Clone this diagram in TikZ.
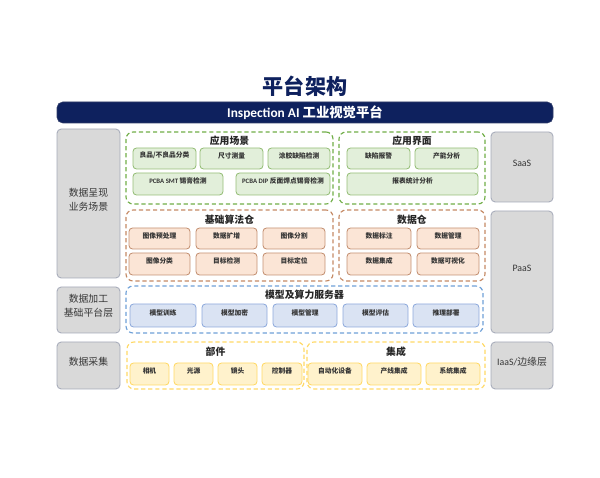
\documentclass[tikz,border=0pt]{standalone}
\usepackage{fontspec}
\setmainfont{Noto Sans CJK SC}
\newfontfamily\lat{Carlito}
\usepackage{tikz}
\usetikzlibrary{%
	fit,%
	calc
}
\definecolor{navy}{RGB}{14,33,94}
\definecolor{grayfill}{RGB}{217,217,217}
\definecolor{grayline}{RGB}{165,170,185}
\definecolor{greenline}{RGB}{112,173,71}
\definecolor{greenfill}{RGB}{226,239,218}
\definecolor{greenbox}{RGB}{150,190,120}
\definecolor{orangeline}{RGB}{196,137,100}
\definecolor{orangefill}{RGB}{251,229,214}
\definecolor{orangebox}{RGB}{196,145,115}
\definecolor{blueline}{RGB}{110,160,215}
\definecolor{bluefill}{RGB}{218,227,243}
\definecolor{bluebox}{RGB}{143,170,220}
\definecolor{yellowline}{RGB}{255,217,102}
\definecolor{yellowfill}{RGB}{255,242,204}
\definecolor{textgray}{RGB}{55,55,55}
\tikzset{
	base/.style={inner sep=0pt, rounded corners=3pt},
	side/.style={base, draw=grayline, fill=grayfill, line width=0.6pt, text=textgray, align=center, font=\fontsize{7}{10}\selectfont},
	grp/.style={base, dashed, dash pattern=on 3pt off 2pt, line width=0.8pt, rounded corners=5pt},
	grptitle/.style={font=\bfseries\fontsize{7}{8}\selectfont, text=black!85},
	item/.style={base, line width=0.6pt, rounded corners=2.5pt, font=\bfseries\fontsize{4.8}{5}\selectfont, text=black!80},
	gitem/.style={item, draw=greenbox, fill=greenfill},
	oitem/.style={item, draw=orangebox, fill=orangefill},
	bitem/.style={item, draw=bluebox, fill=bluefill},
	yitem/.style={item, draw=yellowline, fill=yellowfill}
}
\begin{document}
\begin{tikzpicture}[x=0.025cm, y=-0.025cm]
	\useasboundingbox (0,0) rectangle (600,478);
	
	% Title and banner
	\node[font=\bfseries\fontsize{15}{18}\selectfont, text=navy] (title) at (305,86) {平台架构};
	\node[base, fill=navy, draw=navy!70!gray, rounded corners=4pt, fit={(57,102) (553,123)}] (banner) {};
	\node[text=white, font=\bfseries\fontsize{9.5}{10}\selectfont] (bannerT) at (banner.center) {{\lat Inspection AI} 工业视觉平台};
	
	% Left column
	\node[side, fit={(57,129) (120,278)}] (present) {数据呈现\\业务场景};
	\node[side, fit={(57,287) (120,333)}] (process) {数据加工\\基础平台层};
	\node[side, fit={(57,342) (120,389)}] (collect) {数据采集};
	
	% Right column
	\node[side, fit={(491,132) (553,202)}] (saas) {\lat SaaS};
	\node[side, fit={(491,211) (553,333)}] (paas) {\lat PaaS};
	\node[side, fit={(491,342) (553,389)}] (iaas) {{\lat IaaS/}边缘层};
	
	% Application scenes
	\node[grp, draw=greenline, fit={(126,132) (333,204)}] (scene) {};
	\node[grptitle] (sceneT) at (229.5,141) {应用场景};
	\node[gitem, fit={(133,148) (196,169)}] (scene1) {良品/不良品分类};
	\node[gitem, fit={(200,148) (263,169)}] (scene2) {尺寸测量};
	\node[gitem, fit={(268,148) (330,169)}] (scene3) {涂胶缺陷检测};
	\node[gitem, fit={(133,173) (223,195)}] (scene4) {{\lat PCBA SMT} 锡膏检测};
	\node[gitem, fit={(236,173) (330,195)}] (scene5) {{\lat PCBA DIP} 反面焊点锡膏检测};
	
	% Application interface
	\node[grp, draw=greenline, fit={(339,132) (485,204)}] (ui) {};
	\node[grptitle] (uiT) at (412,141) {应用界面};
	\node[gitem, fit={(347,148) (410,169)}] (ui1) {缺陷报警};
	\node[gitem, fit={(415,148) (478,169)}] (ui2) {产能分析};
	\node[gitem, fit={(347,173) (478,195)}] (ui3) {报表统计分析};
	
	% Algorithm store
	\node[grp, draw=orangeline, fit={(126,210) (333,281)}] (algo) {};
	\node[grptitle] (algoT) at (229.5,220) {基础算法仓};
	\node[oitem, fit={(129,228) (190,249)}] (algo1) {图像预处理};
	\node[oitem, fit={(196,228) (257,249)}] (algo2) {数据扩增};
	\node[oitem, fit={(263,228) (325,249)}] (algo3) {图像分割};
	\node[oitem, fit={(129,253) (190,275)}] (algo4) {图像分类};
	\node[oitem, fit={(196,253) (257,275)}] (algo5) {目标检测};
	\node[oitem, fit={(263,253) (325,275)}] (algo6) {目标定位};
	
	% Data store
	\node[grp, draw=orangeline, fit={(339,210) (485,281)}] (data) {};
	\node[grptitle] (dataT) at (412,220) {数据仓};
	\node[oitem, fit={(347,228) (411,249)}] (data1) {数据标注};
	\node[oitem, fit={(417,228) (479,249)}] (data2) {数据管理};
	\node[oitem, fit={(347,253) (411,275)}] (data3) {数据集成};
	\node[oitem, fit={(417,253) (479,275)}] (data4) {数据可视化};
	
	% Model and compute server
	\node[grp, draw=blueline, fit={(126,286) (483,333)}] (model) {};
	\node[grptitle] (modelT) at (304.5,295) {模型及算力服务器};
	\node[bitem, fit={(130,304) (196,327)}] (model1) {模型训练};
	\node[bitem, fit={(202,304) (267,327)}] (model2) {模型加密};
	\node[bitem, fit={(273,304) (337,327)}] (model3) {模型管理};
	\node[bitem, fit={(343,304) (408,327)}] (model4) {模型评估};
	\node[bitem, fit={(413,304) (479,327)}] (model5) {推理部署};
	
	% Parts
	\node[grp, draw=yellowline, fit={(127,342) (304,389)}] (parts) {};
	\node[grptitle] (partsT) at (215.5,352) {部件};
	\node[yitem, fit={(130,363) (169,385)}] (part1) {相机};
	\node[yitem, fit={(174,363) (213,385)}] (part2) {光源};
	\node[yitem, fit={(218,363) (257,385)}] (part3) {镜头};
	\node[yitem, fit={(262,363) (302,385)}] (part4) {控制器};
	
	% Integration
	\node[grp, draw=yellowline, fit={(307,342) (485,389)}] (integ) {};
	\node[grptitle] (integT) at (396,352) {集成};
	\node[yitem, fit={(308,363) (362,385)}] (integ1) {自动化设备};
	\node[yitem, fit={(367,363) (421,385)}] (integ2) {产线集成};
	\node[yitem, fit={(426,363) (480,385)}] (integ3) {系统集成};
\end{tikzpicture}
\end{document}
